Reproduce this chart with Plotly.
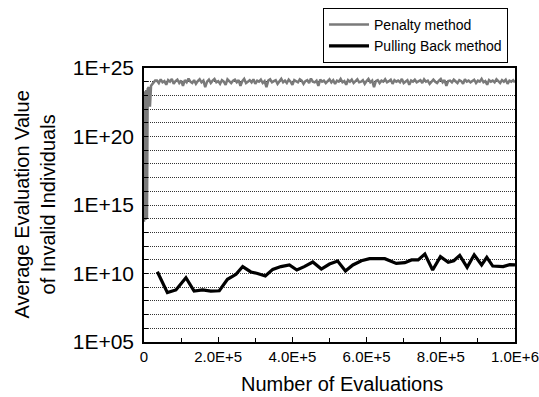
import plotly.graph_objects as go

# ---------------- data ----------------
penalty_x_start = [0, 2000, 4000, 6000, 8000, 10000, 13000, 16000, 19000, 25000, 30000]
penalty_y_start = [6e13, 2e23, 8e13, 2.5e23, 1e14, 3e23, 4e23, 1.5e22, 5e23, 8e23, 1.2e24]

penalty_x = list(range(35000, 1000001, 5000))
penalty_y = [
    1.2e24, 0.8e24, 1.5e24, 0.9e24, 1.1e24, 0.6e24, 1.3e24, 1.0e24, 1.6e24, 0.7e24,
    1.1e24, 1.4e24, 0.8e24, 1.2e24, 0.5e24, 1.3e24, 0.9e24, 1.7e24, 1.0e24, 0.8e24,
    1.3e24, 0.7e24, 1.1e24, 1.5e24, 0.9e24, 1.2e24, 0.4e24, 1.0e24, 1.4e24, 0.8e24,
    1.2e24, 1.6e24, 0.9e24, 1.1e24, 0.7e24, 1.3e24, 1.0e24, 0.6e24, 1.5e24, 1.1e24,
    0.8e24, 1.2e24, 1.4e24, 0.9e24, 1.3e24, 0.5e24, 1.1e24, 1.6e24, 0.8e24, 1.0e24,
    1.3e24, 0.9e24, 1.5e24, 0.7e24, 1.2e24, 1.0e24, 1.4e24, 0.8e24, 1.1e24, 0.4e24,
    1.2e24, 1.5e24, 0.9e24, 1.1e24, 1.3e24, 0.7e24, 1.0e24, 1.6e24, 0.9e24, 1.2e24,
    0.8e24, 1.4e24, 1.0e24, 0.6e24, 1.3e24, 1.1e24, 0.9e24, 1.5e24, 1.2e24, 0.7e24,
    1.1e24, 1.3e24, 0.8e24, 1.7e24, 1.0e24, 0.9e24, 1.2e24, 0.5e24, 1.4e24, 1.0e24,
    1.2e24, 0.8e24, 1.1e24, 1.5e24, 0.9e24, 1.3e24, 0.7e24, 1.2e24, 1.0e24, 1.6e24,
    0.9e24, 1.1e24, 0.6e24, 1.3e24, 1.0e24, 1.4e24, 0.8e24, 1.2e24, 1.5e24, 0.9e24,
    1.0e24, 1.3e24, 0.7e24, 1.1e24, 1.6e24, 0.9e24, 1.2e24, 0.4e24, 1.1e24, 1.3e24,
    0.8e24, 1.2e24, 1.0e24, 1.5e24, 0.9e24, 1.1e24, 1.4e24, 0.7e24, 1.3e24, 1.0e24,
    1.2e24, 0.9e24, 1.6e24, 0.8e24, 1.1e24, 1.3e24, 0.6e24, 1.2e24, 1.0e24, 1.4e24,
    0.9e24, 1.1e24, 1.3e24, 0.8e24, 1.5e24, 1.0e24, 1.2e24, 0.7e24, 1.1e24, 1.4e24,
    1.0e24, 0.8e24, 1.2e24, 1.6e24, 0.9e24, 1.3e24, 0.5e24, 1.1e24, 1.2e24, 0.9e24,
    1.4e24, 1.0e24, 0.8e24, 1.3e24, 1.1e24, 0.7e24, 1.5e24, 1.0e24, 1.2e24, 0.9e24,
    1.1e24, 1.4e24, 0.8e24, 1.2e24, 1.0e24, 1.6e24, 0.9e24, 1.1e24, 0.6e24, 1.3e24,
    1.0e24, 1.2e24, 0.9e24, 1.5e24, 1.1e24, 0.8e24, 1.3e24, 1.0e24, 1.4e24, 0.7e24,
    1.2e24, 1.0e24, 1.3e24, 0.9e24,
]

pullback_x = [
    36000, 63000, 86000, 113000, 135000, 158000, 180000, 203000, 225000, 248000,
    266000, 288000, 306000, 327000, 347000, 369000, 392000, 412000, 432000, 455000,
    478000, 500000, 522000, 543000, 563000, 586000, 608000, 649000, 680000, 703000,
    721000, 739000, 757000, 778000, 799000, 820000, 835000, 851000, 871000, 890000,
    910000, 924000, 940000, 968000, 986000, 1000000,
]
pullback_y = [
    1.35e10, 4.0e8, 6.3e8, 4.9e9, 5.2e8, 6.3e8, 5.2e8, 5.5e8, 3.8e9, 8.7e9,
    3.2e10, 1.3e10, 1.0e10, 6.6e9, 2.0e10, 3.2e10, 4.2e10, 1.8e10, 3.2e10, 6.9e10,
    2.1e10, 4.9e10, 8.1e10, 1.5e10, 4.2e10, 8.5e10, 1.2e11, 1.2e11, 5.5e10, 6.2e10,
    9.8e10, 9.8e10, 2.6e11, 1.8e10, 1.7e11, 6.6e10, 8.5e10, 2.1e11, 2.8e10, 2.3e11,
    4.2e10, 1.5e11, 3.5e10, 3.2e10, 4.4e10, 4.2e10,
]

y_tickvals = [10.0 ** k for k in range(5, 26)]
y_ticktext = ["1E+%02d" % k if k % 5 == 0 else "" for k in range(5, 26)]
x_tickvals = [0, 200000, 400000, 600000, 800000, 1000000]
x_ticktext = ["0", "2.0E+5", "4.0E+5", "6.0E+5", "8.0E+5", "1.0E+6"]

FONT = "Liberation Sans, Arial, sans-serif"

fig = go.Figure()
fig.add_trace(go.Scatter(
    x=penalty_x_start + penalty_x, y=penalty_y_start + penalty_y,
    mode="lines", name="Penalty method",
    line=dict(color="#7a7a7a", width=2.5),
))
fig.add_trace(go.Scatter(
    x=pullback_x, y=pullback_y,
    mode="lines", name="Pulling Back method",
    line=dict(color="black", width=3.2),
))

fig.update_layout(
    width=539, height=397,
    margin=dict(l=144, r=24, t=68, b=55, autoexpand=False),
    paper_bgcolor="white", plot_bgcolor="white",
    font=dict(family=FONT, color="black"),
    showlegend=True,
    legend=dict(
        x=0.4825, y=1.219, xanchor="left", yanchor="top",
        bgcolor="white", bordercolor="black", borderwidth=1,
        font=dict(size=14, family=FONT), itemwidth=40,
        tracegroupgap=0,
    ),
    xaxis=dict(
        range=[0, 1000000], showgrid=False, zeroline=False,
        showline=True, linecolor="black", linewidth=1.5, mirror=True,
        tickvals=x_tickvals, ticktext=x_ticktext,
        ticks="inside", ticklen=5, tickcolor="black", tickwidth=1,
        tickfont=dict(size=15, family=FONT), automargin=False,
        minor=dict(dtick=100000, tick0=0, ticks="inside", ticklen=4,
                   tickcolor="black", showgrid=False),
    ),
    yaxis=dict(
        type="log", range=[5, 25], zeroline=False,
        showline=True, linecolor="black", linewidth=1.5, mirror=True,
        tickvals=y_tickvals, ticktext=y_ticktext,
        ticks="inside", ticklen=4, tickcolor="black", tickwidth=1,
        tickfont=dict(size=21, family=FONT), automargin=False,
        showgrid=True, gridcolor="#333333", gridwidth=1, griddash="1px,1px",
        ticklabelstandoff=4,
    ),
    annotations=[
        dict(text="Number of Evaluations", xref="paper", yref="paper",
             x=0.535, y=-0.153, xanchor="center", yanchor="middle",
             showarrow=False, font=dict(size=20, family=FONT)),
        dict(text="Average Evaluation Value<br>of Invalid Individuals",
             xref="paper", yref="paper", x=-0.295, y=0.5,
             xanchor="center", yanchor="middle", textangle=-90,
             showarrow=False, font=dict(size=20, family=FONT)),
    ],
)

fig.write_html("out.html",
               config={"displayModeBar": False},
               post_script="document.body.style.margin='0';document.body.style.padding='0';")
